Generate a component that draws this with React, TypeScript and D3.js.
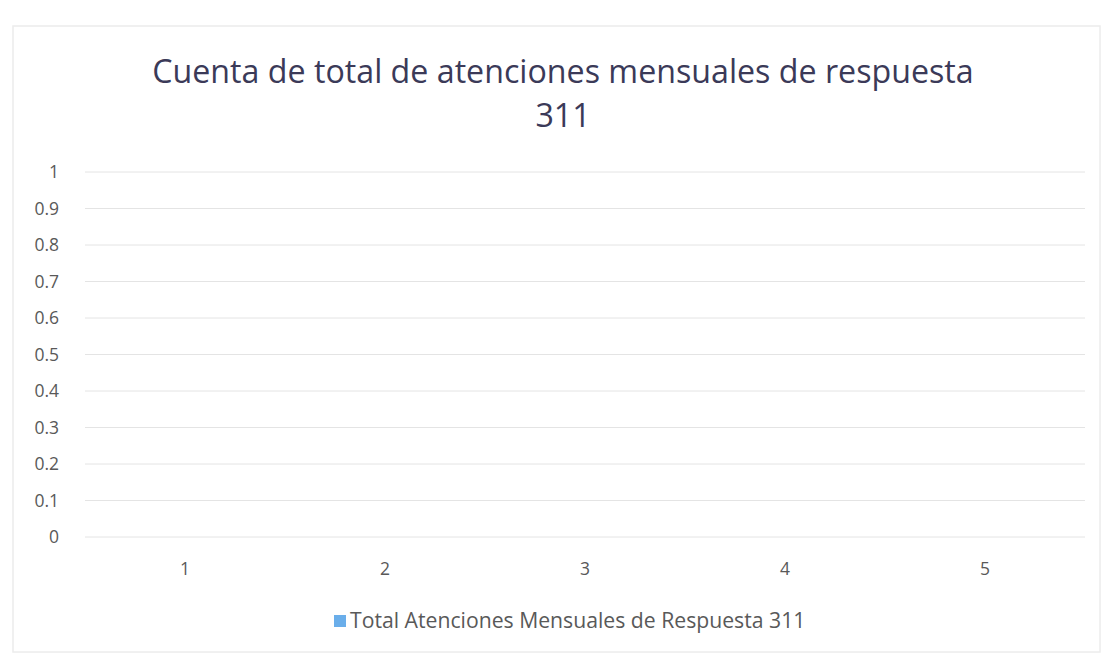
import { useEffect, useRef } from 'react';
import * as d3 from 'd3';

// categories (x axis) and the single series (empty in the source chart)
const categories = ['1', '2', '3', '4', '5'];
const seriesValues: (number | null)[] = [null, null, null, null, null];
const yTicks = [0, 0.1, 0.2, 0.3, 0.4, 0.5, 0.6, 0.7, 0.8, 0.9, 1];
const titleLines = ['Cuenta de total de atenciones mensuales de respuesta', '311'];
const seriesName = 'Total Atenciones Mensuales de Respuesta 311';

export default function App() {
  const svgRef = useRef<SVGSVGElement>(null);

  useEffect(() => {
    if (!svgRef.current) return;
    const width = 1103;
    const height = 656;
    const font = "'Open Sans', 'Noto Sans', sans-serif";

    d3.select(svgRef.current).selectAll('*').remove();
    const svg = d3.select(svgRef.current)
      .attr('width', width)
      .attr('height', height)
      .attr('viewBox', `0 0 ${width} ${height}`);

    svg.append('rect').attr('width', width).attr('height', height).style('fill', '#fff');

    // chart frame
    svg.append('rect')
      .attr('x', 13).attr('y', 26)
      .attr('width', width - 16).attr('height', height - 30)
      .style('fill', 'none')
      .style('stroke', '#ececec')
      .style('stroke-width', '1.5px');

    const margin = { top: 172, right: 18, bottom: 119, left: 85 };
    const x = d3.scaleBand().domain(categories).range([margin.left, width - margin.right]).paddingInner(0.5).paddingOuter(0.25);
    const y = d3.scaleLinear().domain([0, 1]).range([height - margin.bottom, margin.top]);

    // gridlines
    svg.append('g')
      .selectAll('line')
      .data(yTicks)
      .enter()
      .append('line')
      .attr('x1', margin.left).attr('x2', width - margin.right)
      .attr('y1', d => y(d)).attr('y2', d => y(d))
      .style('stroke', '#e4e4e4')
      .style('stroke-width', '1px');

    // y labels
    svg.append('g')
      .selectAll('text')
      .data(yTicks)
      .enter()
      .append('text')
      .attr('x', 59)
      .attr('y', d => y(d))
      .attr('dy', '0.35em')
      .attr('text-anchor', 'end')
      .text(d => d3.format('~g')(d))
      .style('fill', '#595959')
      .style('font-family', font)
      .style('font-size', '17.5px');

    // x labels
    svg.append('g')
      .selectAll('text')
      .data(categories)
      .enter()
      .append('text')
      .attr('x', d => (x(d) || 0) + x.bandwidth() / 2)
      .attr('y', height - margin.bottom + 38)
      .attr('text-anchor', 'middle')
      .text(d => d)
      .style('fill', '#595959')
      .style('font-family', font)
      .style('font-size', '17.5px');

    // bars (no values)
    svg.append('g')
      .selectAll('rect')
      .data(categories.map((c, i) => ({ c, v: seriesValues[i] ?? 0 })))
      .enter()
      .append('rect')
      .attr('x', d => x(d.c) || 0)
      .attr('width', x.bandwidth())
      .attr('y', d => y(d.v))
      .attr('height', d => y(0) - y(d.v))
      .style('fill', '#6aaeea');

    // title
    svg.append('g')
      .selectAll('text')
      .data(titleLines)
      .enter()
      .append('text')
      .attr('x', 563)
      .attr('y', (_, i) => 83 + i * 44)
      .attr('text-anchor', 'middle')
      .text(d => d)
      .style('fill', '#3b3a58')
      .style('font-family', font)
      .style('font-size', '32.2px');

    // legend
    const legend = svg.append('g').attr('transform', 'translate(334,621)');
    legend.append('rect')
      .attr('x', 0).attr('y', -6)
      .attr('width', 12).attr('height', 12)
      .style('fill', '#6aaeea');
    legend.append('text')
      .attr('x', 16)
      .attr('dy', '0.35em')
      .text(seriesName)
      .style('fill', '#595959')
      .style('font-family', font)
      .style('font-size', '21.2px');
  }, []);

  return (
    <div style={{ position: 'absolute', left: 0, top: 0 }}>
      <svg ref={svgRef} style={{ display: 'block' }} />
    </div>
  );
}
